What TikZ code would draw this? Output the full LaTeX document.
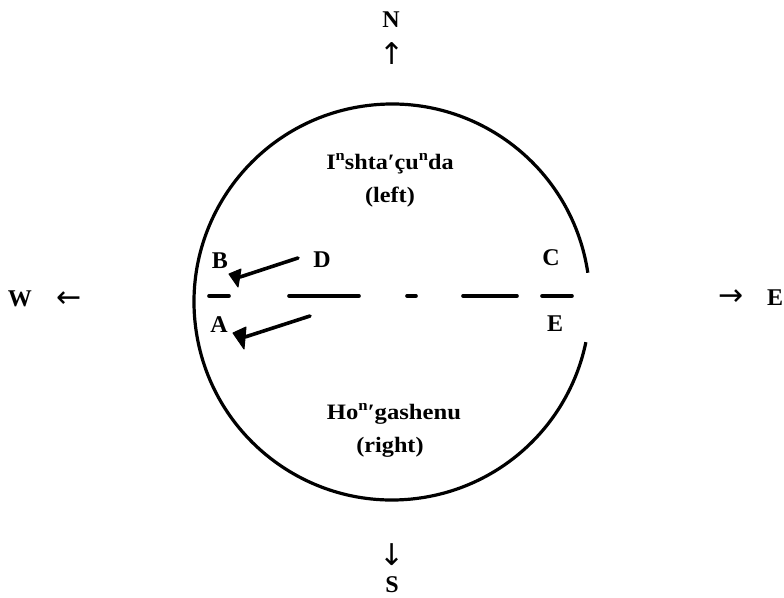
\documentclass[tikz,border=0pt]{standalone}
\usepackage{fontspec}
\usepackage{graphicx}
\setmainfont{Liberation Serif}
\newfontfamily\arrowfont{DejaVu Sans}
\newcommand{\sn}{\raisebox{0.38em}{\fontsize{15}{15}\selectfont n}}
\newcommand{\wide}[1]{\scalebox{1.1}[1]{#1}}
\begin{document}
\begin{tikzpicture}[x=1pt,y=-1pt,
  lbl/.style={font=\fontsize{24}{24}\selectfont\bfseries, inner sep=0pt},
  arrowglyph/.style={font=\arrowfont\fontsize{30}{30}\selectfont, inner sep=0pt},
  txt/.style={font=\fontsize{22}{22}\selectfont\bfseries, inner sep=0pt, anchor=base},
  ring/.style={line width=3.2pt},
  dashseg/.style={line width=3.6pt, line cap=round},
  arr/.style={line width=3.6pt, line cap=round},
  head/.style={fill=black, draw=black, line width=1pt, line join=round}]
\useasboundingbox (0,0) rectangle (784,597);
% circle with a gap on the east side
\coordinate (O) at (392,302);
\draw[ring] (O) ++(-8.5:198) arc[start angle=-8.5, end angle=-348.3, radius=198];
% broken east-west line
\draw[dashseg] (209,296) -- (229,296);
\draw[dashseg] (289,296) -- (359,296);
\draw[dashseg] (407,296) -- (416,296);
\draw[dashseg] (463,296) -- (517,296);
\draw[dashseg] (542,296) -- (572,296);
% labels
\node[lbl] (B) at (220,261) {B};
\node[lbl] (D) at (322,260) {D};
\node[lbl] (A) at (219,325) {A};
\node[lbl] (C) at (551,258) {C};
\node[lbl] (Elab) at (555,324) {E};
% compass
\node[lbl] (N) at (391,20) {N};
\node[arrowglyph] (up) at (392,53.5) {↑};
\node[arrowglyph] (down) at (392,555) {↓};
\node[lbl] (S) at (392,585) {S};
\node[lbl] (W) at (20,299) {W};
\node[arrowglyph] (left) at (69,300) {←};
\node[arrowglyph] (right) at (731,298) {→};
\node[lbl] (E) at (775,298) {E};
% texts
\node[txt] (ins) at (390,169) {\wide{I\sn shta′çu\sn da}};
\node[txt] (lft) at (390,202) {\wide{(left)}};
\node[txt] (hon) at (394,419) {\scalebox{1.12}[1]{Ho\sn′gashenu}};
\node[txt] (rgt) at (390,452) {\wide{(right)}};
% arrow D -> B
\coordinate (d0) at (298,258);
\coordinate (b0) at (240,277);
\coordinate (b1) at (229,274);
\coordinate (b2) at (241,269);
\coordinate (b3) at (238,287);
\draw[arr] (d0) -- (b0);
\filldraw[head] (b1) -- (b2) -- (b3) -- cycle;
% arrow toward A
\coordinate (a0) at (310,316);
\coordinate (a1) at (245,337);
\coordinate (a2) at (233,333);
\coordinate (a3) at (246,327);
\coordinate (a4) at (244,349);
\draw[arr] (a0) -- (a1);
\filldraw[head] (a2) -- (a3) -- (a4) -- cycle;
\end{tikzpicture}
\end{document}
